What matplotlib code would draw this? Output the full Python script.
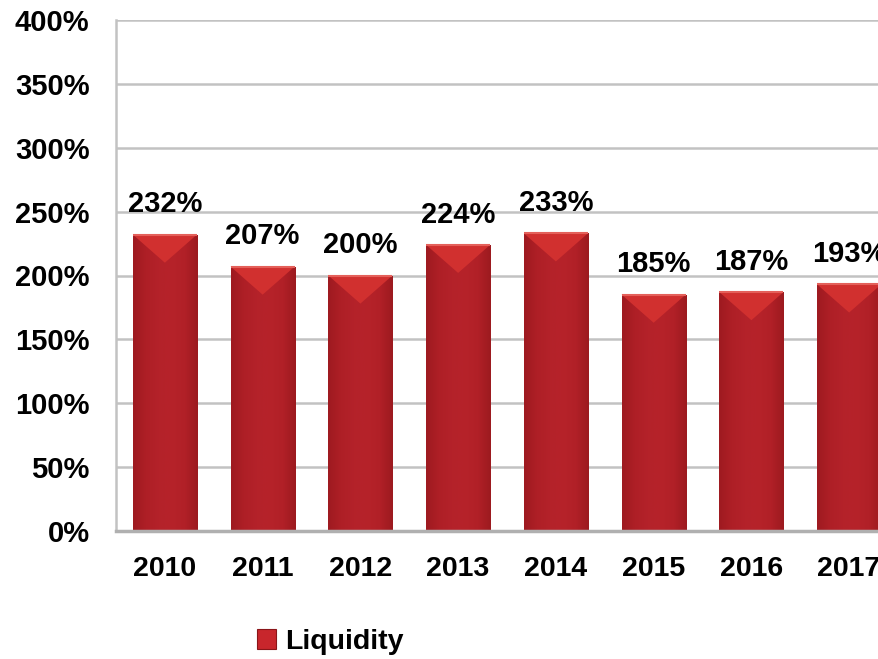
import numpy as np
import matplotlib
matplotlib.use("Agg")
import matplotlib.pyplot as plt
from matplotlib.patches import Rectangle, Polygon
from matplotlib.colors import LinearSegmentedColormap

years = ["2010", "2011", "2012", "2013", "2014", "2015", "2016", "2017"]
liquidity = [232, 207, 200, 224, 233, 185, 187, 193]
yticks = [0, 50, 100, 150, 200, 250, 300, 350, 400]
series_name = "Liquidity"

plt.rcParams['font.family'] = ['Liberation Sans', 'DejaVu Sans']
plt.rcParams['font.weight'] = 'bold'

W, H = 879, 659
fig = plt.figure(figsize=(W / 100, H / 100), dpi=100)
left, right = 116 / W, 898 / W
bottom, top = 1 - 531 / H, 1 - 20 / H
ax = fig.add_axes([left, bottom, right - left, top - bottom])

x = np.arange(len(years))
bw = 0.655
ax.set_xlim(-0.5, len(years) - 0.5)
ax.set_ylim(0, 400)

for yv in yticks[1:]:
    ax.axhline(yv, color='#c2c2c2', lw=1.8, zorder=0)

grad = LinearSegmentedColormap.from_list(
    'bar', ['#9e1a20', '#ae1f26', '#b4222a', '#b6232a', '#b12027', '#9c1a1f'])
gimg = np.linspace(0, 1, 256).reshape(1, -1)

bars = ax.bar(x, liquidity, width=bw, color='#b3212a', zorder=2, linewidth=0)
for b, v in zip(bars, liquidity):
    x0 = b.get_x()
    w = b.get_width()
    im = ax.imshow(gimg, cmap=grad, aspect='auto',
                   extent=(x0, x0 + w, 0, v), zorder=2.1,
                   interpolation='bicubic')
    im.set_clip_path(b)
    d = 22
    tri = Polygon([(x0, v), (x0 + w, v), (x0 + w / 2, v - d)],
                  closed=True, facecolor='#d1302f', edgecolor='none',
                  zorder=2.2)
    ax.add_patch(tri)
    ax.plot([x0, x0 + w], [v, v], color='#e4605a', lw=1.5, zorder=2.3,
            solid_capstyle='butt')
    ax.annotate(f"{v}%", (x0 + w / 2, v), xytext=(0, 16),
                textcoords='offset points', ha='center', va='baseline',
                fontsize=21, fontweight='bold', color='black',
                annotation_clip=False)

ax.set_yticks(yticks)
ax.set_yticklabels([f"{t}%" for t in yticks], fontsize=21, fontweight='bold')
ax.set_xticks(x)
ax.set_xticklabels(years, fontsize=20.5, fontweight='bold')
ax.tick_params(axis='both', length=0)
ax.tick_params(axis='y', pad=19)
ax.tick_params(axis='x', pad=18)

for s in ['top', 'right']:
    ax.spines[s].set_visible(False)
ax.spines['left'].set_color('#c2c2c2')
ax.spines['left'].set_linewidth(1.8)
ax.spines['bottom'].set_color('#b0b0b0')
ax.spines['bottom'].set_linewidth(2.5)

handle = Rectangle((0, 0), 1, 1, facecolor='#c8262c', edgecolor='#8a1519', lw=0.8)
fig.legend([handle], [series_name], loc='center',
           bbox_to_anchor=(330 / W, 1 - 642 / H), frameon=False,
           prop={'size': 20.5, 'weight': 'bold'}, handlelength=0.7,
           handleheight=0.7, handletextpad=0.3)

fig.savefig('out.png', dpi=100)
